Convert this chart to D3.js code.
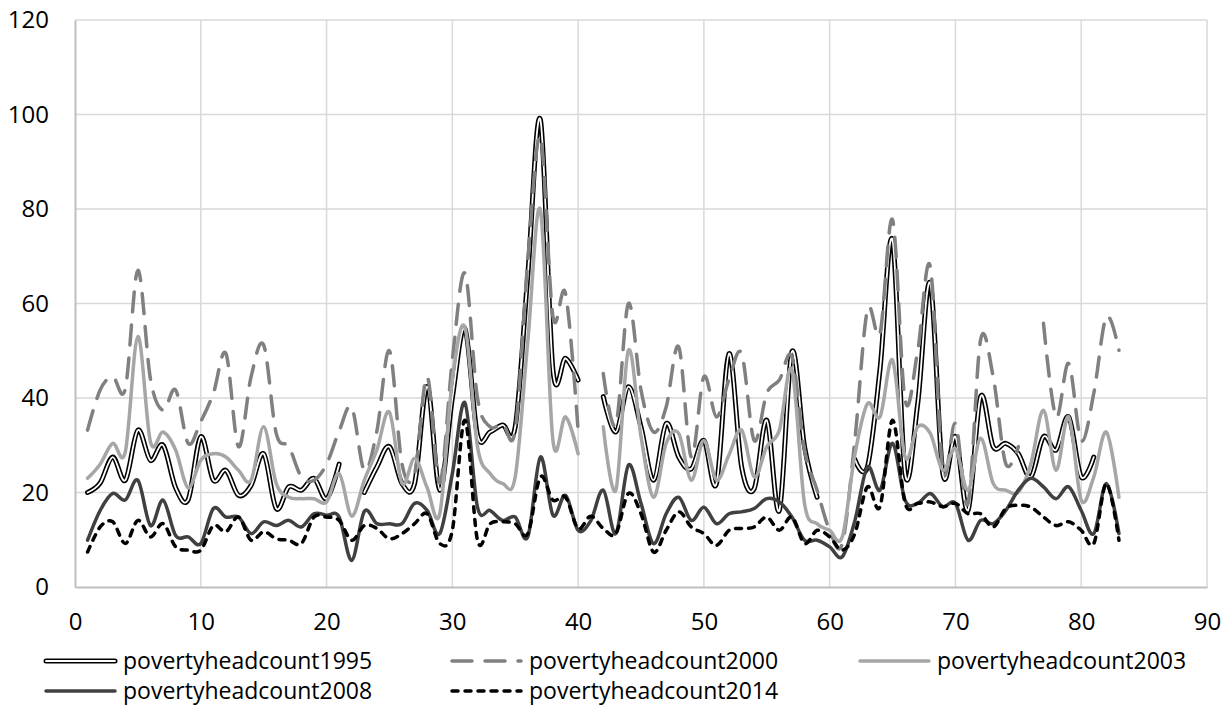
<!DOCTYPE html>
<html><head><meta charset="utf-8">
<script src="https://cdn.jsdelivr.net/npm/d3@7"></script>
<style>
body{margin:0;background:#fff}
svg{display:block}
text{font-family:"Open Sans",sans-serif;fill:#000}
</style>
</head><body>
<svg id="c" width="1223" height="707"></svg>
<script>
// x positions 1..83
const xValues = d3.range(1, 84);
const xTicks = [0,10,20,30,40,50,60,70,80,90];
const yTicks = [0,20,40,60,80,100,120];
const seriesNames = ["povertyheadcount1995","povertyheadcount2000","povertyheadcount2003","povertyheadcount2008","povertyheadcount2014"];

const p1995 = [20, 22, 27.5, 22.6, 33.2, 26.8, 30, 21, 18.5, 31.8,
 22.6, 24.7, 19.4, 21.5, 28.2, 16.6, 21.2, 20.5, 23, 18.7,
 26, null, 20, 25.4, 29.7, 21.9, 21.9, 42.4, 20.5, 40,
 54.7, 32.1, 32.8, 34.3, 33.9, 66, 98.9, 45.9, 48.4, 43.8,
 null, 40.3, 32.8, 42.4, 33.9, 22.6, 34.6, 27.5, 25, 31,
 21.9, 49.4, 25.4, 20.8, 35.3, 16.2, 49.8, 29.7, 19, null,
 null, 27, 25.4, 46, 73.4, 24, 38.8, 64.3, 24, 31.8,
 16.2, 40.3, 29.7, 30.4, 28.2, 23.3, 31.8, 29, 36, 23.3,
 27.5, null, null];

const p2000 = [33.2, 41.7, 44.5, 42, 67, 44, 37.4, 41.7, 30.4, 35,
 41, 49.4, 29.7, 44.5, 51.2, 32.5, 29.7, 23.3, 22.6, 26,
 33, 38, 24.7, 33, 50, 26, 24, 44.5, 22, 48,
 66.4, 40, 33.9, 34.6, 33.2, 69, 95.3, 57.2, 62.1, 33.2,
 null, 45.2, 34.3, 60, 41.7, 32.8, 38.1, 50.8, 27.5, 44.5,
 36, 44, 49.4, 31, 41, 43.8, 48.7, 29, 20.5, 12,
 9.2, 31, 58.6, 53.7, 77.7, 39.5, 50, 67.8, 24.7, 34.6,
 17.7, 52.3, 44.5, 26.1, 29.7, null, 55.8, 36, 47.3, 31,
 41, 57.2, 50.1];

const p2003 = [23, 26, 30.4, 28.6, 53, 30.7, 32.8, 29, 21, 26.8,
 28.2, 27.5, 24.7, 22.6, 33.9, 21.9, 19, 18.7, 18.7, 18,
 24, 15, 22.6, 29, 37, 21.9, 27.2, 21, 15.5, 43.8,
 55, 29.7, 24, 21.9, 23.3, 52, 79.8, 31, 36, 28.2,
 null, 33.9, 20.5, 50.1, 31.8, 19, 30.4, 32.5, 22.6, 31,
 22.6, 28, 33.2, 23.3, 29.7, 33.2, 46, 17.7, 13.4, 12,
 10.6, 28, 38.8, 36, 48, 27.5, 33.9, 32.5, 24.7, 29.3,
 20.5, 31.5, 21.9, 20.5, 20.1, 26.1, 37.4, 24.7, 36, 18.4,
 23.3, 32.8, 19];

const p2008 = [9.9, 16.2, 19.8, 18.4, 22.6, 13, 18.4, 10.9, 10.6, 9.2,
 16.6, 14.8, 14.8, 11.3, 13.8, 13, 14.1, 12.7, 15.5, 15.2,
 14.8, 5.6, 16, 13.4, 13.4, 13.4, 17.7, 16.2, 11.3, 24,
 39, 16.9, 16.2, 14.1, 14.8, 10.6, 27.5, 15.2, 19.4, 12,
 14, 20.5, 11.3, 25.8, 17.7, 9.2, 15.5, 19, 14.1, 16.9,
 13.4, 15.5, 15.9, 16.6, 18.7, 18, 14.8, 9.9, 9.9, 8.5,
 6.4, 14, 25.4, 20.5, 30.4, 18.4, 17.7, 19.8, 17, 17.7,
 9.9, 14.1, 13.4, 16.2, 20.5, 23, 21.2, 18.7, 21.2, 16.2,
 11.3, 21.9, 11.3];

const p2014 = [7.4, 12.7, 13.8, 9.2, 14.1, 10.6, 13.4, 8.5, 7.8, 7.8,
 13, 11.7, 14.8, 9.9, 11.7, 10.2, 9.9, 9.2, 14.8, 14.8,
 14.1, 9.9, 13, 12.4, 10.2, 11.3, 13.4, 15.5, 9.2, 12,
 35.3, 9.9, 13.4, 13.8, 13.4, 11.3, 23.3, 18.4, 19, 12.4,
 15, 12.4, 11.3, 19.8, 15.5, 7.4, 12, 15.9, 12.7, 11.3,
 8.8, 12, 12.4, 12.7, 14.8, 12, 14.8, 9.2, 12, 10.6,
 7.8, 11.3, 21.2, 17, 35.3, 17.7, 17.7, 18, 17, 17.7,
 15.5, 15.5, 12.7, 16.6, 17.3, 16.9, 14.8, 13, 13.8, 12,
 9.2, 21.9, 9.9];

const seriesValues = [p1995, p2000, p2003, p2008, p2014];

const styles = [
  {color:"#000", width:5, dash:null, inner:true},
  {color:"#808080", width:3.5, dash:"20 13", inner:false},
  {color:"#a6a6a6", width:3.5, dash:null, inner:false},
  {color:"#404040", width:3.5, dash:null, inner:false},
  {color:"#000", width:3.5, dash:"6 7", inner:false}
];

const svg = d3.select("#c");
const x = d3.scaleLinear().domain([0,90]).range([75,1207]);
const y = d3.scaleLinear().domain([0,120]).range([587,20]);

// gridlines
svg.append("g").selectAll("line").data(yTicks.filter(d=>d>0)).join("line")
  .attr("x1", x(0)).attr("x2", x(90)).attr("y1", d=>y(d)).attr("y2", d=>y(d))
  .attr("stroke","#d9d9d9").attr("stroke-width",1.5);
svg.append("g").selectAll("line").data(xTicks.filter(d=>d>0)).join("line")
  .attr("y1", y(0)).attr("y2", y(120)).attr("x1", d=>x(d)).attr("x2", d=>x(d))
  .attr("stroke","#d9d9d9").attr("stroke-width",1.5);

// axes
const xAxis = svg.append("g").attr("transform",`translate(0,${y(0)})`)
  .call(d3.axisBottom(x).tickValues(xTicks).tickSize(0).tickPadding(26).tickFormat(d3.format("d")));
const yAxis = svg.append("g").attr("transform",`translate(${x(0)},0)`)
  .call(d3.axisLeft(y).tickValues(yTicks).tickSize(0).tickPadding(26).tickFormat(d3.format("d")));
[xAxis,yAxis].forEach(a=>{
  a.select(".domain").attr("stroke","#bfbfbf").attr("stroke-width",2);
  a.selectAll("text").style("font-family","'Open Sans',sans-serif").style("font-size","24px").attr("fill","#000");
});

// lines
const line = d3.line()
  .defined(d => d[1] != null)
  .x(d => x(d[0])).y(d => y(d[1]))
  .curve(d3.curveCardinal.tension(0));

const plot = svg.append("g");
seriesValues.forEach((vals, i) => {
  const st = styles[i];
  const pts = xValues.map((xv, j) => [xv, vals[j]]);
  const p = plot.append("path").attr("d", line(pts))
    .attr("fill","none").attr("stroke", st.color).attr("stroke-width", st.width)
    .attr("stroke-linejoin","round").attr("stroke-linecap","round");
  if (st.dash) p.attr("stroke-dasharray", st.dash);
  if (st.inner) {
    plot.append("path").attr("d", line(pts))
      .attr("fill","none").attr("stroke","#fff").attr("stroke-width",1.8)
      .attr("stroke-linejoin","round").attr("stroke-linecap","round");
  }
});

// legend
const legendPos = [[46,661],[452,661],[860,661],[46,691],[452,691]];
const lg = svg.append("g");
seriesNames.forEach((name, i) => {
  const st = styles[i];
  const [lx, ly] = legendPos[i];
  const l = lg.append("line").attr("x1", lx).attr("x2", lx+69).attr("y1", ly).attr("y2", ly)
    .attr("stroke", st.color).attr("stroke-width", st.width).attr("stroke-linecap","round");
  if (st.dash) l.attr("stroke-dasharray", st.dash);
  if (st.inner) {
    lg.append("line").attr("x1", lx).attr("x2", lx+69).attr("y1", ly).attr("y2", ly)
      .attr("stroke","#fff").attr("stroke-width",1.8).attr("stroke-linecap","round");
  }
  lg.append("text").attr("x", lx+77).attr("y", ly).attr("dy","0.35em")
    .style("font-size","23px").text(name);
});
</script>
</body></html>
